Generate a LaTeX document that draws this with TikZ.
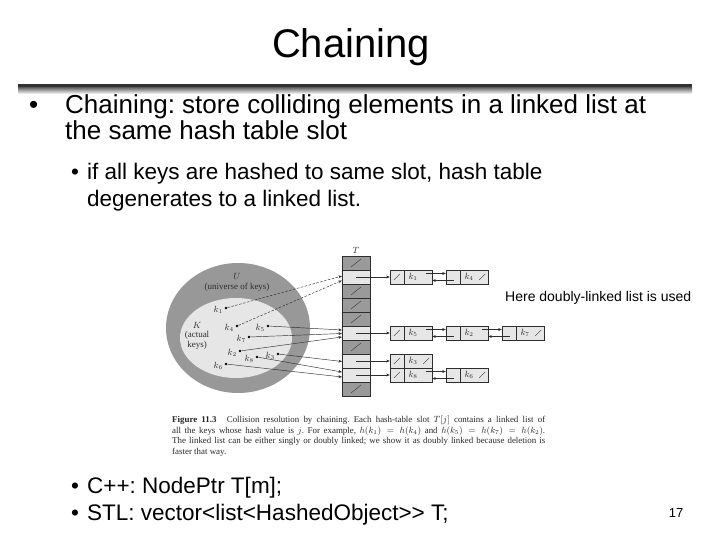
\documentclass[tikz,border=0pt]{standalone}
\usepackage{fontspec}
\setmainfont{Liberation Sans}
\newfontfamily\figfont{Liberation Serif}
\usetikzlibrary{positioning,calc,arrows.meta}
\definecolor{slotdark}{HTML}{9A9A9A}
\definecolor{slotlight}{HTML}{E6E6E6}
\definecolor{univgray}{HTML}{989898}
\definecolor{figink}{HTML}{2E2E2E}
\frenchspacing

\tikzset{
  ptr/.style={figink,line width=0.45pt,-{Stealth[length=3.6pt,width=2.8pt]}},
  slotbox/.style={draw=figink,line width=0.4pt,minimum width=28pt,minimum height=14pt,inner sep=0pt},
  cellbox/.style={draw=figink,line width=0.4pt,fill=slotlight,minimum width=42pt,minimum height=13.5pt,inner sep=0pt},
  keydot/.style={circle,fill=black,inner sep=0pt,minimum size=2.8pt},
  keylab/.style={font=\figfont\fontsize{9}{9}\selectfont,text=figink,inner sep=0pt},
  nilmark/.style={figink,line width=0.35pt},
  bigtxt/.style={anchor=base west,inner sep=0pt,font=\fontsize{26}{26}\selectfont},
  subtxt/.style={anchor=base west,inner sep=0pt,font=\fontsize{22.5}{22.5}\selectfont},
  captxt/.style={anchor=base west,inner sep=0pt,font=\figfont\fontsize{8.9}{8.9}\selectfont,text=black!85},
}

\begin{document}
\begin{tikzpicture}[x=1pt,y=-1pt]
  \useasboundingbox (0,0) rectangle (720,540);
  % title and rule under it
  \node[anchor=base,inner sep=0pt,font=\fontsize{40}{40}\selectfont] (title) at (351,58) {Chaining};
  \fill[black!80] (18,84) rectangle (692,88);
  \shade[top color=black!55,bottom color=white] (18,88) rectangle (692,94);

  % bullets
  \node[bigtxt] (dot1) at (29,114) {•};
  \node[bigtxt] (line1) at (65,114) {Chaining: store colliding elements in a linked list at};
  \node[bigtxt] (line2) at (65,140) {the same hash table slot};
  \node[subtxt] (dot2) at (71,180) {•};
  \node[subtxt] (line3) at (87,180) {if all keys are hashed to same slot, hash table};
  \node[subtxt] (line4) at (87,207) {degenerates to a linked list.};
  \node[subtxt] (dot3) at (71,493) {•};
  \node[subtxt] (line5) at (87,493) {C++: NodePtr T[m];};
  \node[subtxt] (dot4) at (71,520) {•};
  \node[subtxt] (line6) at (87,520) {STL: vector<list<HashedObject>\kern0pt> T;};
  \node[anchor=base,inner sep=0pt,font=\fontsize{13}{13}\selectfont] (pageno) at (676,517) {17};
  \node[anchor=base west,inner sep=0pt,font=\fontsize{14}{14}\selectfont] (note) at (505,301) {Here doubly-linked list is used};

  % universe of keys
  \fill[univgray] (238,328) ellipse (72 and 65);
  \fill[slotlight] (236,338) ellipse (56 and 40);
  \node[keylab] (U) at (237,276) {$U$};
  \node[keylab] (univ) at (237,287) {(universe of keys)};
  \node[keylab] (K) at (197,325) {$K$};
  \node[keylab] (act) at (197,335) {(actual};
  \node[keylab] (keys) at (197,345) {keys)};
  \foreach \n/\xx/\yy in {1/226/308, 4/237/326, 5/268/326, 7/249/337, 2/240/351, 8/257/357, 3/278/354, 6/226/364}{
    \node[keydot] (k\n) at (\xx,\yy) {};
    \node[keylab,left=1.5pt of k\n,yshift=-1.5pt] (lk\n) {$k_\n$};
  }

  % table T
  \node[keylab] (T) at (356,250) {$T$};
  \foreach \i/\c in {0/slotdark,1/slotlight,2/slotdark,3/slotdark,4/slotdark,
                     5/slotlight,6/slotdark,7/slotlight,8/slotlight,9/slotdark}
    \node[slotbox,fill=\c] (s\i) at (356,263+14*\i) {};
  \foreach \i in {0,2,3,4,6,9}
    \draw[nilmark] ($(s\i.center)+(-5,4)$) -- ($(s\i.center)+(5,-4)$);

  % keys hashed into slots
  \foreach \n/\yy in {1/276, 4/280.5, 5/330, 7/333.5, 2/337, 3/361.5, 8/372, 6/377}
    \coordinate (e\n) at (342,\yy);
  \foreach \n in {1,4}
    \draw[ptr,dash pattern=on 2.5pt off 1.5pt] (k\n) -- (e\n);
  \foreach \n in {5,7,2,3,8,6}
    \draw[ptr] (k\n) -- (e\n);

  % chains
  \foreach \n/\xx/\yy/\kk in {a/390/277/k_1, b/446/277/k_4, c/390/333/k_5, d/446/333/k_2,
                              e/502/333/k_7, f/390/361/k_3, g/390/375/k_8, h/446/375/k_6}{
    \node[cellbox] (\n) at (\xx+21,\yy) {};
    \draw[figink,line width=0.4pt] ($(\n.north west)+(14,0)$) -- ($(\n.south west)+(14,0)$);
    \node[keylab] (l\n) at (\xx+23,\yy) {$\kk$};
  }
  \foreach \n in {a,c,f,g}
    \draw[nilmark] ($(\n.west)+(4,3)$) -- ($(\n.west)+(10,-3)$);
  \foreach \n in {b,e,f,h}
    \draw[nilmark] ($(\n.east)+(-9,3)$) -- ($(\n.east)+(-3,-3)$);
  \foreach \i/\n in {1/a,5/c,7/f,8/g}
    \draw[ptr] (s\i.center) -- (\n.west);
  \foreach \p/\q in {a/b, c/d, d/e, g/h}{
    \draw[ptr] ($(\p.east)+(-6,-3.5)$) -- ($(\q.west)+(0,-3.5)$);
    \draw[ptr] ($(\q.west)+(8,3.5)$) -- ($(\p.east)+(0,3.5)$);
  }

  % caption
  \node[captxt] (cap1) at (172,422.5) {\makebox[373pt][s]{\textbf{Figure 11.3}\hspace{6pt} Collision resolution by chaining. Each hash-table slot $T[j]$ contains a linked list of}};
  \node[captxt] (cap2) at (172,433) {\makebox[373pt][s]{all the keys whose hash value is $j$. For example, $h(k_1)=h(k_4)$ and $h(k_5)=h(k_7)=h(k_2)$.}};
  \node[captxt] (cap3) at (172,443.5) {\makebox[373pt][s]{The linked list can be either singly or doubly linked; we show it as doubly linked because deletion is}};
  \node[captxt] (cap4) at (172,454) {faster that way.};
\end{tikzpicture}
\end{document}
